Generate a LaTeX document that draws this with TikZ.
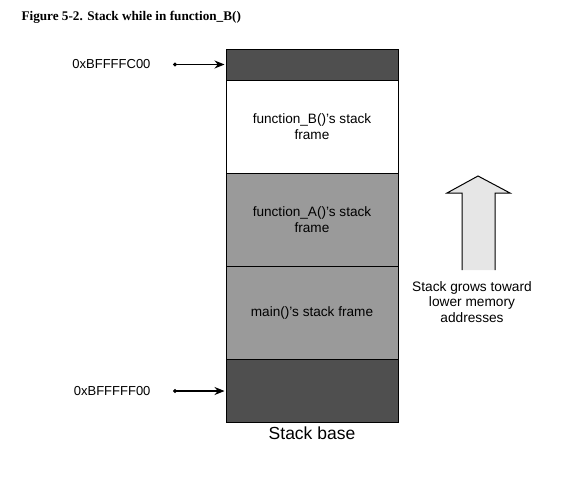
\documentclass[tikz,border=0pt]{standalone}
\usepackage{fontspec}
\setmainfont{Liberation Serif}
\setsansfont{Liberation Sans}
\usetikzlibrary{positioning,arrows.meta}
\definecolor{darkslot}{HTML}{4F4F4F}
\definecolor{midslot}{HTML}{9A9A9A}
\definecolor{growfill}{HTML}{E6E6E6}
\tikzset{
  frame/.style={draw=black, line width=1pt, minimum width=172pt, inner sep=0pt, outer sep=0pt,
    align=center, font=\sffamily\fontsize{13.6}{15.5}\selectfont},
  addr/.style={font=\sffamily\fontsize{13}{15}\selectfont, anchor=east},
  ptr/.style={{Circle[length=4pt]}-{Stealth[length=10pt,width=8pt]}, line width=1.1pt, shorten >=1.5pt}
}

\begin{document}
\begin{tikzpicture}[x=1pt,y=-1pt]
        \useasboundingbox (0,0) rectangle (562,479);
        \node[anchor=west, font=\bfseries\fontsize{13.2}{15}\selectfont] (title) at (18,17) {Figure 5-2. Stack while in function\_B()};
        % the stack, top to bottom
        \node[frame, fill=darkslot, minimum height=31pt, anchor=north] (top) at (312,49) {};
        \node[frame, fill=white, minimum height=93pt, below=0pt of top] (fnb) {function\_B()'s stack\\frame};
        \node[frame, fill=midslot, minimum height=93pt, below=0pt of fnb] (fna) {function\_A()'s stack\\frame};
        \node[frame, fill=midslot, minimum height=93pt, below=0pt of fna] (mainf) {main()'s stack frame};
        \node[frame, fill=darkslot, minimum height=63pt, below=0pt of mainf] (base) {};
        \node[below=1pt of base, font=\sffamily\fontsize{17.5}{20}\selectfont] (basetxt) {Stack base};
        % addresses
        \node[addr] (topaddr) at (154,64.5) {0xBFFFFC00};
        \node[addr] (baseaddr) at (154,391) {0xBFFFFF00};
        \coordinate (topdot) at (173,64.5);
        \coordinate (basedot) at (173,391);
        \draw[ptr] (topdot) -- (topdot -| top.west);
        \draw[ptr] (basedot) -- (basedot -| base.west);
        % growth arrow
        \fill[growfill] (462,270) -- (462,193) -- (447,193) -- (478,176) -- (510,193) -- (495,193) -- (495,270) -- cycle;
        \draw[line width=1pt, line join=miter] (462,270) -- (462,193) -- (447,193) -- (478,176) -- (510,193) -- (495,193) -- (495,270);
        \node[align=center, font=\sffamily\fontsize{13.7}{15.5}\selectfont] (growtxt) at (472,302) {Stack grows toward\\lower memory\\addresses};
\end{tikzpicture}
\end{document}
